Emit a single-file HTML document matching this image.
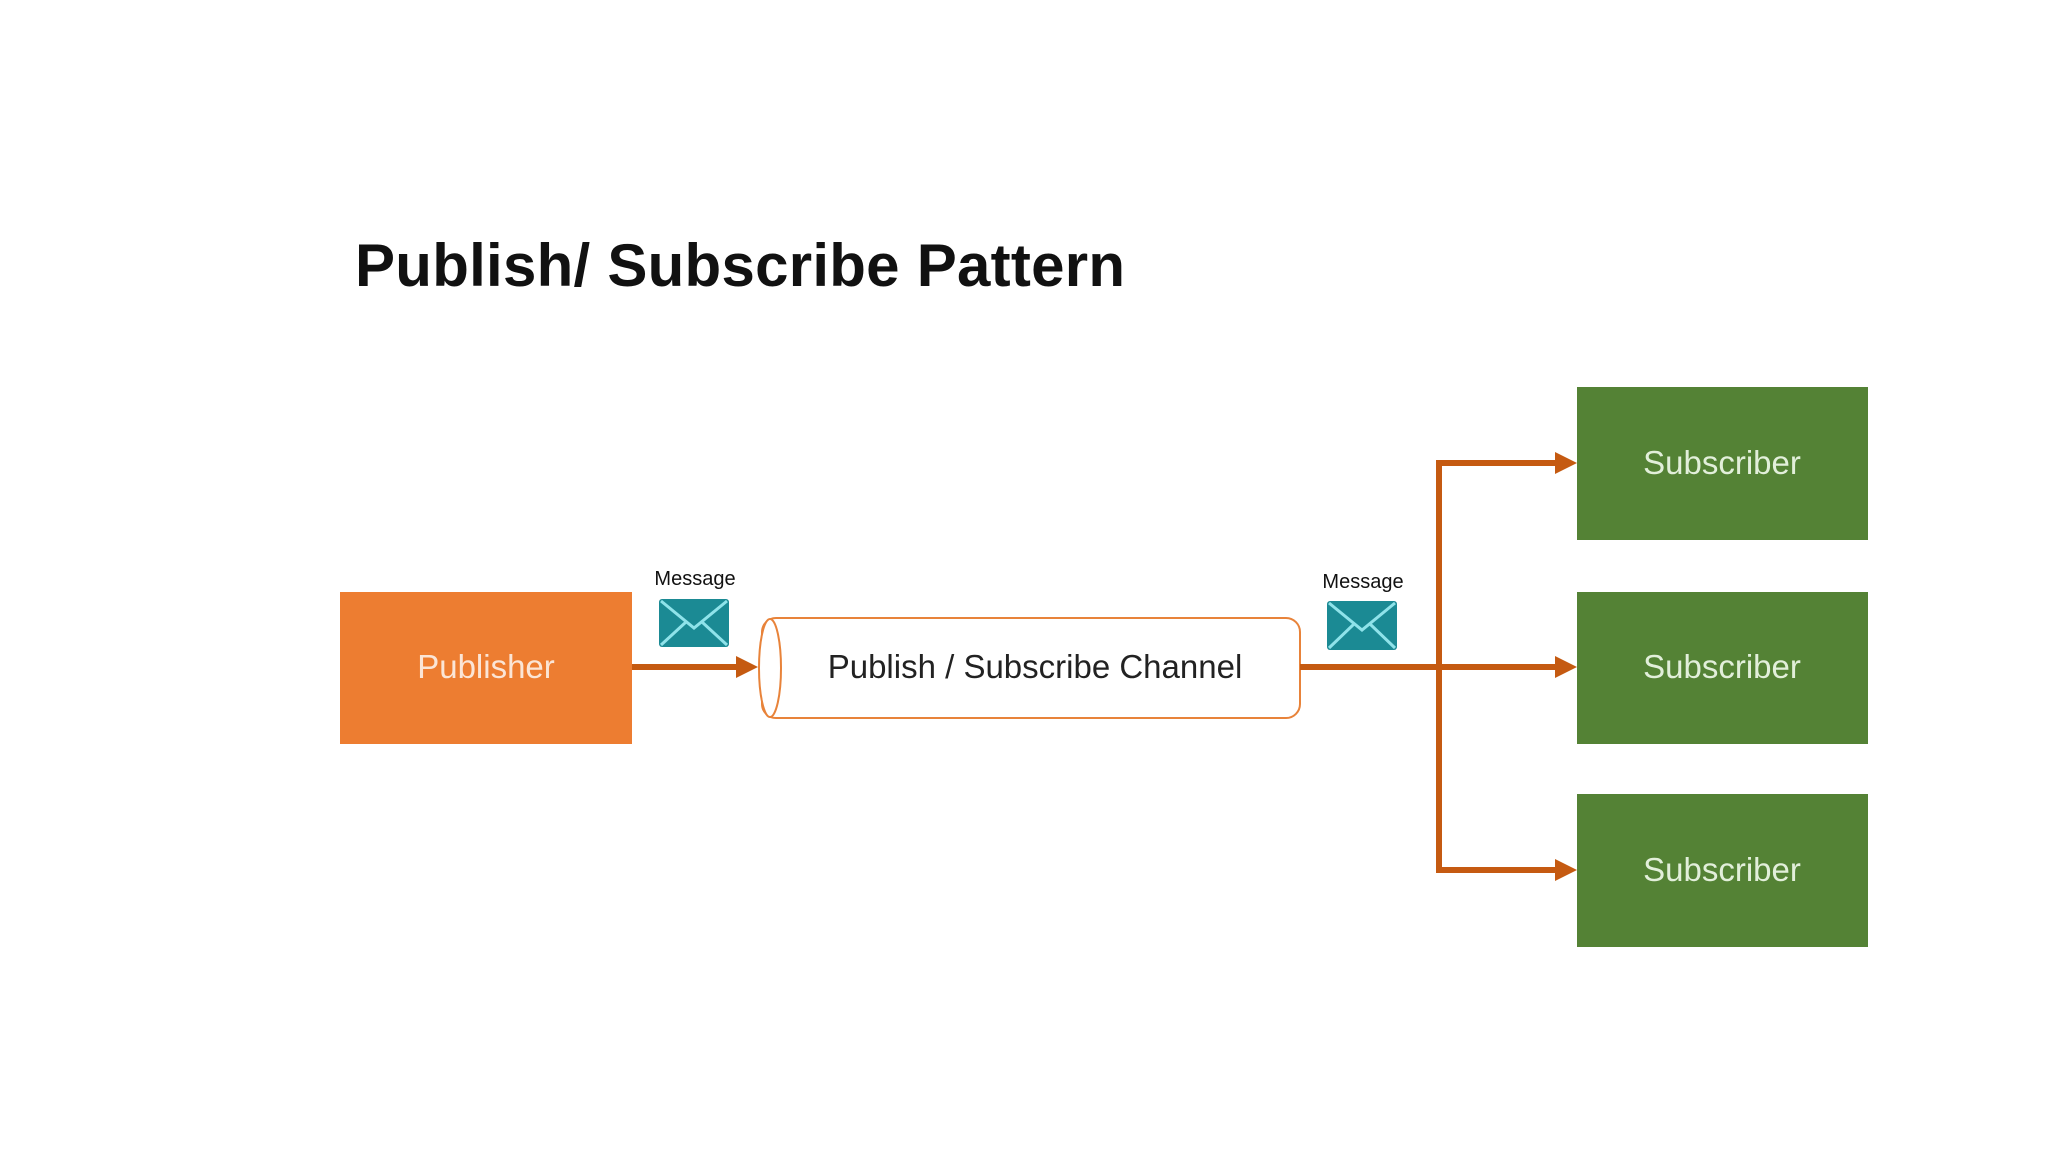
<!DOCTYPE html>
<html><head><meta charset="utf-8"><style>
body{margin:0;width:2048px;height:1152px;background:#fff;overflow:hidden}
</style></head><body>
<svg width="2048" height="1152" xmlns="http://www.w3.org/2000/svg" font-family="Liberation Sans, sans-serif">
<text x="355" y="286" font-size="60" font-weight="bold" fill="#111" textLength="770">Publish/ Subscribe Pattern</text>
<rect x="340" y="592" width="292" height="152" fill="#ED7D31"/>
<text x="486" y="678" font-size="33" fill="#fbe5d6" text-anchor="middle">Publisher</text>
<line x1="632" y1="667" x2="740" y2="667" stroke="#C55A11" stroke-width="6"/>
<polygon points="736,656 758,667 736,678" fill="#C55A11"/>
<rect x="762" y="618" width="538" height="100" rx="14" fill="#fff" stroke="#E8833A" stroke-width="2"/>
<ellipse cx="770" cy="668" rx="11" ry="49" fill="#fff" stroke="#E8833A" stroke-width="2"/>
<text x="1035" y="678" font-size="33" fill="#222" text-anchor="middle">Publish / Subscribe Channel</text>
<line x1="1300" y1="667" x2="1560" y2="667" stroke="#C55A11" stroke-width="6"/>
<line x1="1439" y1="463" x2="1439" y2="870" stroke="#C55A11" stroke-width="6"/>
<line x1="1436" y1="463" x2="1560" y2="463" stroke="#C55A11" stroke-width="6"/>
<line x1="1436" y1="870" x2="1560" y2="870" stroke="#C55A11" stroke-width="6"/>
<polygon points="1555,452 1577,463 1555,474" fill="#C55A11"/>
<polygon points="1555,656 1577,667 1555,678" fill="#C55A11"/>
<polygon points="1555,859 1577,870 1555,881" fill="#C55A11"/>
<g fill="#548235">
<rect x="1577" y="387" width="291" height="153"/>
<rect x="1577" y="592" width="291" height="152"/>
<rect x="1577" y="794" width="291" height="153"/>
</g>
<g font-size="33" fill="#e2efda" text-anchor="middle">
<text x="1722" y="474">Subscriber</text>
<text x="1722" y="678">Subscriber</text>
<text x="1722" y="881">Subscriber</text>
</g>
<g font-size="20" fill="#111" text-anchor="middle">
<text x="695" y="585">Message</text>
<text x="1363" y="588">Message</text>
</g>
<g stroke="#8fe3ea" stroke-width="3">
<rect x="659" y="599" width="70" height="48" rx="3" fill="#1B8A94" stroke="none"/>
<polyline points="661,601 694,628 727,601" fill="none"/>
<line x1="661" y1="645" x2="686" y2="622"/><line x1="727" y1="645" x2="702" y2="622"/>
<rect x="1327" y="601" width="70" height="49" rx="3" fill="#1B8A94" stroke="none"/>
<polyline points="1329,603 1362,630 1395,603" fill="none"/>
<line x1="1329" y1="648" x2="1354" y2="624"/><line x1="1395" y1="648" x2="1370" y2="624"/>
</g>
</svg>
</body></html>
